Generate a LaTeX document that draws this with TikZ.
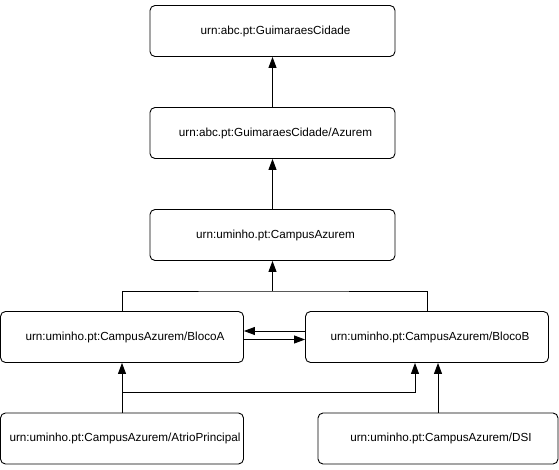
\documentclass[tikz,border=0pt]{standalone}
\usepackage{fontspec}
\setmainfont{Liberation Sans}
\usetikzlibrary{arrows.meta}

\begin{document}
\begin{tikzpicture}[x=1pt,y=-1pt,
    urnbox/.style={draw, line width=0.9pt, rounded corners=5pt, inner sep=0pt,
      minimum height=51pt, font=\fontsize{11.7}{13}\selectfont},
    uparr/.style={line width=0.9pt, -{Triangle[length=11pt,width=8pt]}}]
    \useasboundingbox (0,0) rectangle (559,470);
    \node[urnbox, minimum width=245pt] (cidade) at (272.5,31) {\hspace*{6pt}urn:abc.pt:GuimaraesCidade};
    \node[urnbox, minimum width=245pt] (azurem) at (272.5,133) {\hspace*{6pt}urn:abc.pt:GuimaraesCidade/Azurem};
    \node[urnbox, minimum width=245pt] (campus) at (272.5,235) {\hspace*{6pt}urn:uminho.pt:CampusAzurem};
    \node[urnbox, minimum width=243pt] (blocoA) at (122,337) {\hspace*{6pt}urn:uminho.pt:CampusAzurem/BlocoA};
    \node[urnbox, minimum width=243pt] (blocoB) at (427,337) {\hspace*{6pt}urn:uminho.pt:CampusAzurem/BlocoB};
    \node[urnbox, minimum width=243pt] (atrio) at (122,438.5) {\hspace*{6pt}urn:uminho.pt:CampusAzurem/AtrioPrincipal};
    \node[urnbox, minimum width=240pt] (dsi) at (438,438.5) {\hspace*{6pt}urn:uminho.pt:CampusAzurem/DSI};
    \coordinate (blocos) at (272.5,291);
    \coordinate (atrioB) at (122,392);
    \draw[uparr] (azurem) -- (cidade);
    \draw[uparr] (campus) -- (azurem);
    \draw[line width=0.9pt] (blocoA.north) |- (blocos) -| (blocoB.north);
    \draw[uparr] (blocos) -- (campus);
    \draw[uparr] ([yshift=6pt]blocoB.west) -- ([yshift=6pt]blocoA.east);
    \draw[uparr] ([yshift=-2.5pt]blocoA.east) -- ([yshift=-2.5pt]blocoB.west);
    \draw[uparr] (atrio) -- (blocoA);
    \draw[uparr] (atrioB) -| ([xshift=-12pt]blocoB.south);
    \draw[uparr] (dsi.north) -- (dsi.north |- blocoB.south);
\end{tikzpicture}
\end{document}
